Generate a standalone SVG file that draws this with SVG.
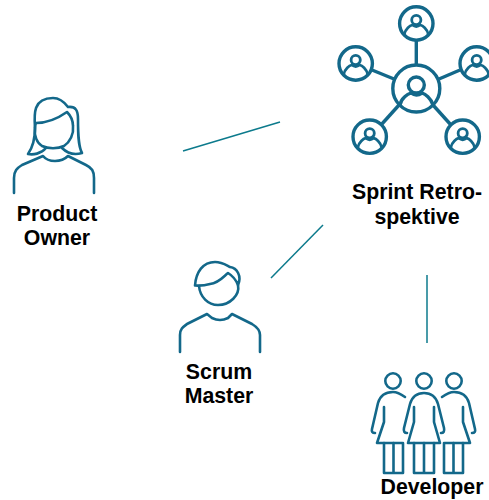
<svg xmlns="http://www.w3.org/2000/svg" width="489" height="500" viewBox="0 0 489 500">
<style>
.i{fill:none;stroke:#13688a;stroke-width:2.6;stroke-linejoin:round;stroke-linecap:round}
.n{fill:none;stroke:#13688a;stroke-width:3.400}
.c{fill:none;stroke:#0c7a8c;stroke-width:1.500}
text{font-family:"Liberation Sans",Arial,sans-serif;font-size:21.300px;font-weight:700;fill:#000;text-anchor:middle}
</style>
<defs>
<g id="sat">
<circle class="n" r="16.700"/>
<circle cx="0" cy="-3.500" r="4.600" class="n" style="stroke-width:2.800"/>
<path class="n" style="stroke-width:2.800" d="M-12 11C-11 5-6 2-4 1.500Q0 4.500 4 1.500C6 2 11 5 12 11"/>
</g>
</defs>
<g id="connectors">
<line class="c" x1="183" y1="151" x2="280" y2="122"/>
<line class="c" x1="323" y1="225" x2="271" y2="278"/>
<line class="c" x1="427" y1="275" x2="427" y2="343"/>
</g>
<g id="sprint-retrospektive">
<g class="n">
<line x1="416.300" y1="40" x2="416.300" y2="65"/>
<line x1="372" y1="70" x2="394" y2="79"/>
<line x1="439" y1="79" x2="460" y2="70"/>
<line x1="381" y1="125" x2="399" y2="105"/>
<line x1="433" y1="105" x2="451" y2="125"/>
</g>
<circle class="n" cx="416.300" cy="88.500" r="23.500"/>
<circle class="n" cx="416.300" cy="85" r="8"/>
<path class="n" d="M400 105C401 98 408 94 411 93Q416.300 97 422 93C425 94 431 98 433 105"/>
<use href="#sat" x="416.300" y="23.500"/>
<use href="#sat" x="355.700" y="63.500"/>
<use href="#sat" x="476.700" y="63.500"/>
<use href="#sat" x="369.700" y="136.700"/>
<use href="#sat" x="462.700" y="136.700"/>
<text x="417" y="199">Sprint Retro-</text>
<text x="417" y="224">spektive</text>
</g>
<g id="product-owner">
<path class="i" d="M36 123C47 123 57 119 67 112C71 116 73 120 73 126C74 134 70 142 64 146C58 149 48 149 42 146C37 143 34 136 35 128Q35 125 36 123Z"/>
<path class="i" d="M35 128C34 114 33 98 53 98C60 98 65 103 68 107C76 106 78 111 78 119C78 132 78 146 82 153C75 155 68 154 62 148M35 128C35 139 33 147 28 154C33 155 41 154 46 148"/>
<path class="i" d="M14 193V178C14 171 17 168 22 165L43 156Q47 161 55 161Q63 161 68 156L86 165C92 168 94 171 94 178V193"/>
<text x="57" y="221">Product</text>
<text x="57" y="245">Owner</text>
</g>
<g id="scrum-master">
<path class="i" d="M199 286C200 297 208 305 218 305C230 305 240 295 238 285"/>
<path class="i" d="M195 285.500C196 272 203 262 215 262C222 262 226 265 230 267C237 268 242 276 238 285C236 280 233 276 228 273C224 276 219 283 210 284Q203 286 195 285.500Z"/>
<path class="i" d="M180 352V335C180 329 183 327 187 324L207 314L212 318Q220 322 228 318L232 314L252 324C257 327 260 330 260 335V352"/>
<text x="219" y="379">Scrum</text>
<text x="219" y="403">Master</text>
</g>
<g id="developer">
<g class="i">
<circle cx="393" cy="381" r="7.700"/>
<circle cx="424" cy="381" r="7.700"/>
<circle cx="454" cy="381" r="7.700"/>
<path d="M405 397Q398 392 393 392C385 392 380 396 378 403L372 429Q371 433 375 433"/>
<path d="M384 407V422L377 443H402"/>
<path d="M384 443V473H403V443M393.500 443V473"/>
<path d="M442 397Q449 392 454 392C462 392 467 396 469 403L475 429Q476 433 472 433"/>
<path d="M463 407V422L470 443H445"/>
<path d="M444 443V473H463V443M453.500 443V473"/>
<path d="M407 433Q403 433 404 428L410 404C412 397 417 393 424 393C431 393 436 397 438 404L444 428Q445 433 441 433"/>
<path d="M414 407V422L408 443H440L434 422V407"/>
<path d="M414 443V473H434V443M424 443V473"/>
</g>
<text x="432" y="494">Developer</text>
</g>
</svg>
